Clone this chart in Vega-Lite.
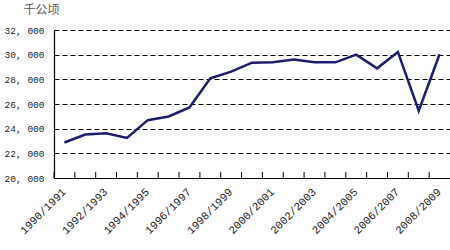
{
  "$schema": "https://vega.github.io/schema/vega-lite/v6.json",
  "width": 396,
  "height": 148,
  "autosize": {"type": "none"},
  "padding": {"left": 54, "top": 30, "right": 0, "bottom": 72},
  "background": "white",
  "config": {"view": {"stroke": null}},
  "data": {"values": [
    {"season": "1990/1991", "area": 22880},
    {"season": "1991/1992", "area": 23530},
    {"season": "1992/1993", "area": 23630},
    {"season": "1993/1994", "area": 23250},
    {"season": "1994/1995", "area": 24690},
    {"season": "1995/1996", "area": 24990},
    {"season": "1996/1997", "area": 25720},
    {"season": "1997/1998", "area": 28080},
    {"season": "1998/1999", "area": 28620},
    {"season": "1999/2000", "area": 29350},
    {"season": "2000/2001", "area": 29380},
    {"season": "2001/2002", "area": 29600},
    {"season": "2002/2003", "area": 29380},
    {"season": "2003/2004", "area": 29380},
    {"season": "2004/2005", "area": 30000},
    {"season": "2005/2006", "area": 28890},
    {"season": "2006/2007", "area": 30220},
    {"season": "2007/2008", "area": 25450},
    {"season": "2008/2009", "area": 30030}
  ]},
  "encoding": {
    "x": {
      "field": "season", "type": "ordinal", "sort": null,
      "scale": {"type": "band", "paddingInner": 0, "paddingOuter": 0},
      "axis": {
        "title": null,
        "domainColor": "#000", "domainWidth": 1.2,
        "ticks": false,
        "labelAngle": -45, "labelAlign": "right", "labelBaseline": "middle",
        "labelPadding": 12,
        "labelFont": "Liberation Mono", "labelFontSize": 11, "labelColor": "#222",
        "labelOverlap": false,
        "labelExpr": "indexof(['1990/1991','1992/1993','1994/1995','1996/1997','1998/1999','2000/2001','2002/2003','2004/2005','2006/2007','2008/2009'], datum.label) >= 0 ? datum.label : ''"
      }
    }
  },
  "layer": [
    {
      "mark": {"type": "rule", "color": "#000", "strokeWidth": 1, "opacity": 1},
      "encoding": {
        "x": {"field": "season", "type": "ordinal", "sort": null, "bandPosition": 0},
        "y": {
          "datum": 20000, "type": "quantitative",
          "scale": {"domain": [20000, 32000], "nice": false, "zero": false},
          "axis": {
            "values": [20000, 22000, 24000, 26000, 28000, 30000, 32000],
            "labelOverlap": false,
            "title": "千公顷", "titleAngle": 0, "titleX": -13, "titleY": -21,
            "titleAlign": "center", "titleBaseline": "middle",
            "titleFont": "Noto Sans CJK SC", "titleFontSize": 12, "titleFontWeight": "normal", "titleColor": "#555",
            "grid": true, "gridColor": "#000", "gridDash": [5, 3], "gridWidth": 1,
            "ticks": false, "labelPadding": 10,
            "domainColor": "#000", "domainWidth": 1.2,
            "labelFont": "Liberation Mono", "labelFontSize": 9.5, "labelColor": "#222",
            "labelExpr": "replace(format(datum.value, ','), ',', ', ')"
          }
        },
        "y2": {"datum": 20490}
      }
    },
    {
      "mark": {"type": "line", "color": "#1c1c6e", "strokeWidth": 2.5},
      "encoding": {
        "y": {
          "field": "area", "type": "quantitative",
          "scale": {"domain": [20000, 32000], "nice": false, "zero": false},
          "axis": {
            "values": [20000, 22000, 24000, 26000, 28000, 30000, 32000],
            "labelOverlap": false,
            "title": "千公顷", "titleAngle": 0, "titleX": -13, "titleY": -21,
            "titleAlign": "center", "titleBaseline": "middle",
            "titleFont": "Noto Sans CJK SC", "titleFontSize": 12, "titleFontWeight": "normal", "titleColor": "#555",
            "grid": true, "gridColor": "#000", "gridDash": [5, 3], "gridWidth": 1,
            "ticks": false, "labelPadding": 10,
            "domainColor": "#000", "domainWidth": 1.2,
            "labelFont": "Liberation Mono", "labelFontSize": 9.5, "labelColor": "#222",
            "labelExpr": "replace(format(datum.value, ','), ',', ', ')"
          }
        }
      }
    }
  ]
}
